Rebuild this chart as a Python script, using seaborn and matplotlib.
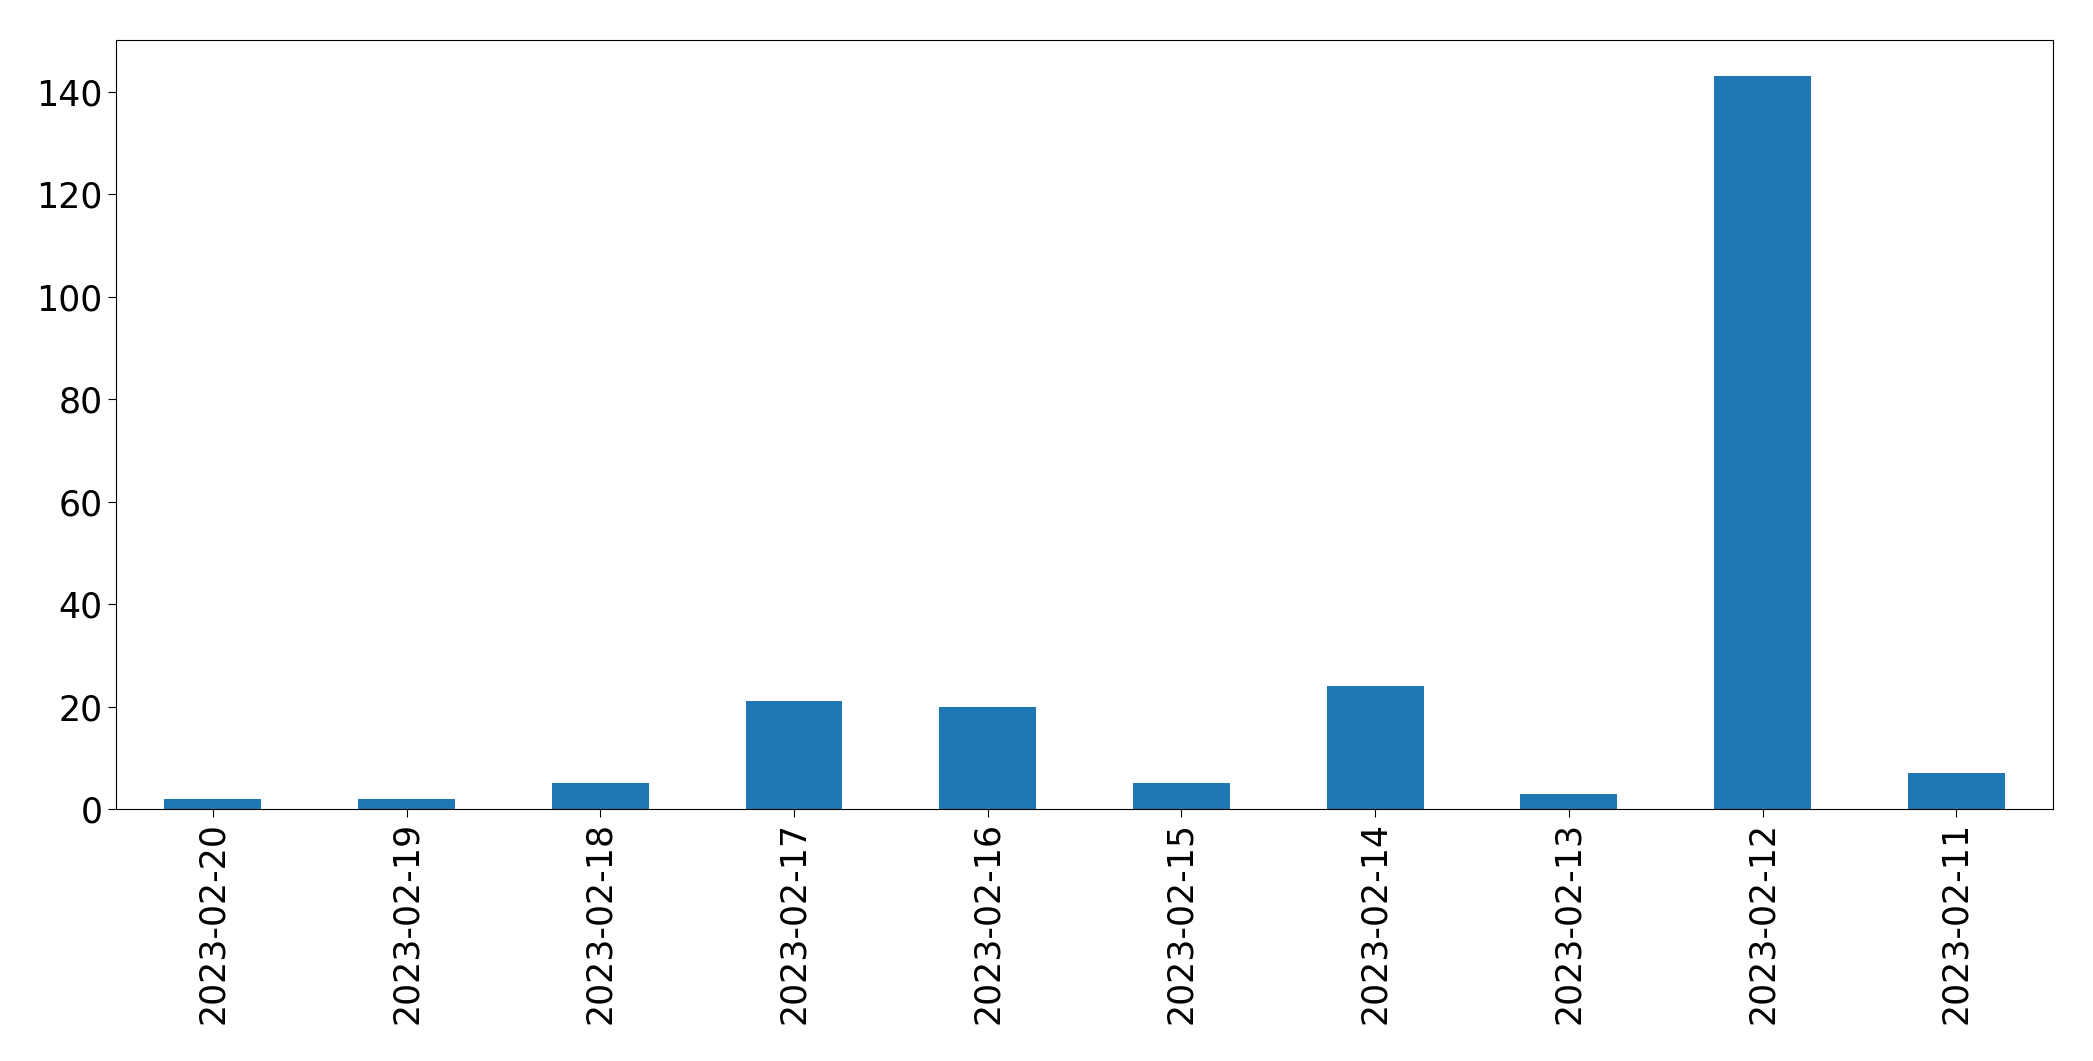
import pandas as pd
import matplotlib.pyplot as plt
import seaborn as sns

dates = ['2023-02-20', '2023-02-19', '2023-02-18', '2023-02-17', '2023-02-16',
         '2023-02-15', '2023-02-14', '2023-02-13', '2023-02-12', '2023-02-11']
counts = [2, 2, 5, 21, 20, 5, 24, 3, 143, 7]

df = pd.DataFrame({'date': dates, 'count': counts})

fig, ax = plt.subplots(figsize=(20.93, 10.61), dpi=100)
sns.barplot(data=df, x='date', y='count', color='#1f77b4', saturation=1,
            width=0.5, ax=ax)
ax.set_xlim(-0.5, len(dates) - 0.5)
ax.set_ylim(0, 150)
ax.set_xlabel('')
ax.set_ylabel('')
ax.tick_params(axis='both', labelsize=25, length=6)
plt.setp(ax.get_xticklabels(), rotation=90)
for s in ax.spines.values():
    s.set_color('black')
plt.subplots_adjust(left=0.0554, right=0.981, top=0.962, bottom=0.2375)
plt.savefig('out.png', dpi=100)
